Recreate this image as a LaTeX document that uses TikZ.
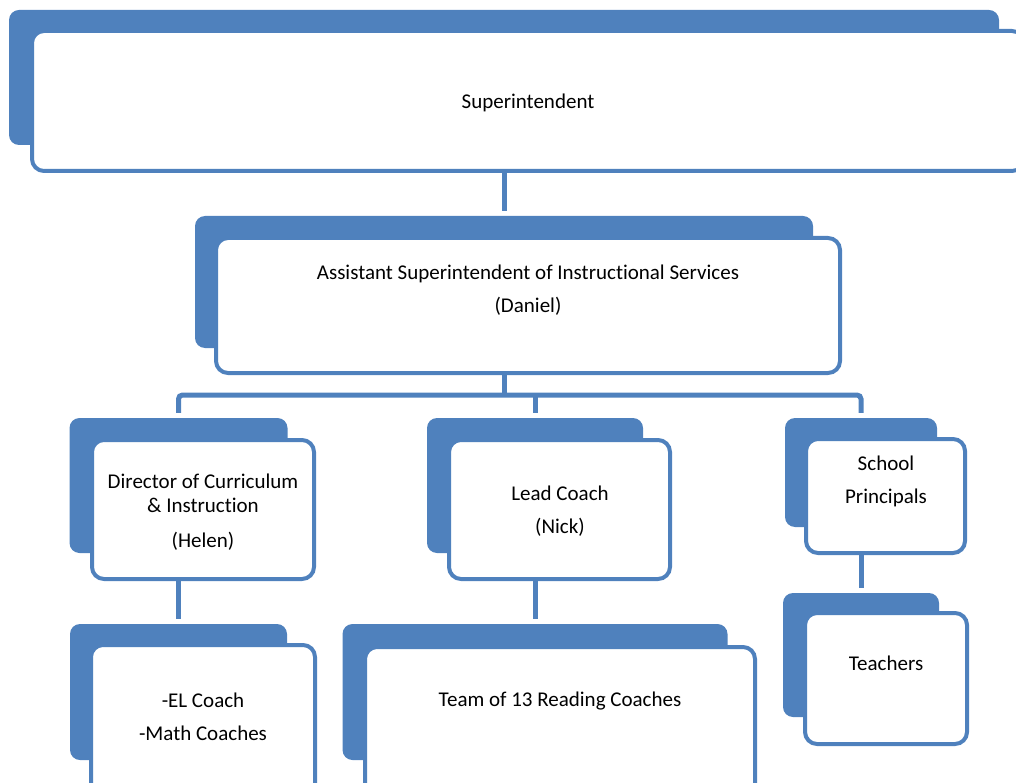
\documentclass[tikz,border=0pt]{standalone}
\usepackage{fontspec}
\setmainfont{Carlito}[Ligatures=NoCommon]
\usetikzlibrary{calc}
\usetikzlibrary{positioning}

\definecolor{boxblue}{HTML}{4F81BD}

\begin{document}
\begin{tikzpicture}[
  x=1pt, y=-1pt,
	back/.style={
	rectangle,
	fill=boxblue,
	rounded corners=10pt,
	inner sep=0pt},
	front/.style={
	rectangle,
	draw=boxblue,
	fill=white,
	line width=4pt,
	rounded corners=12pt,
	inner sep=0pt},
	boxtext/.style={
	align=center,
	inner sep=0pt,
	font=\fontsize{21pt}{24pt}\selectfont},
	link/.style={
	draw=boxblue,
	line width=5pt
	}]

	% Frame
	\clip (0,0) rectangle (1016,783);

	% Superintendent
	\node [back, minimum width=990pt, minimum height=135pt] at (504,77.5)  (supBack) {};
	\node [front, minimum width=992pt, minimum height=140pt] at (528,101) (sup) {};
	\node [boxtext] at (528,103) (supText) {Superintendent};

	% Assistant superintendent
	\node [back, minimum width=618pt, minimum height=132pt] at (504,282)    (asstBack) {};
	\node [front, minimum width=624pt, minimum height=135pt] at (528,305.5) (asst) {};
	\node [boxtext] at (528,290.5) (asstText) {Assistant Superintendent of Instructional Services\\[9pt](Daniel)};

	% Director
	\node [back, minimum width=218pt, minimum height=135pt] at (178.5,485.5) (dirBack) {};
	\node [front, minimum width=222pt, minimum height=139pt] at (203,509.5) (dir) {};
	\node [boxtext] at (203,512) (dirText) {Director of Curriculum\\\& Instruction\\[11pt](Helen)};

	% Lead coach
	\node [back, minimum width=216pt, minimum height=135pt] at (535,485.5)   (leadBack) {};
	\node [front, minimum width=221pt, minimum height=139pt] at (559.5,509.5) (lead) {};
	\node [boxtext] at (560,511.5) (leadText) {Lead Coach\\[9pt](Nick)};

	% Principals
	\node [back, minimum width=152pt, minimum height=109pt] at (861,472.5) (prinBack) {};
	\node [front, minimum width=159pt, minimum height=114pt] at (885.5,496) (prin) {};
	\node [boxtext] at (886,481.5) (prinText) {School\\[9pt]Principals};

	% Teachers
	\node [back, minimum width=156pt, minimum height=124pt] at (861,655)   (teachBack) {};
	\node [front, minimum width=162pt, minimum height=131pt] at (886,678.5) (teach) {};
	\node [boxtext] at (886,663) (teachText) {Teachers};

	% Coaches
	\node [back, minimum width=217pt, minimum height=136pt] at (178.5,692) (elBack) {};
	\node [front, minimum width=224pt, minimum height=155pt] at (203,722.5) (el) {};
	\node [boxtext] at (203,717) (elText) {-EL Coach\\[9pt]-Math Coaches};

	\node [back, minimum width=385pt, minimum height=136pt] at (535,692) (teamBack) {};
	\node [front, minimum width=390pt, minimum height=153pt] at (560,723.5) (team) {};
	\node [boxtext] at (560,701) (teamText) {Team of 13 Reading Coaches};

	% Links
	\draw[link, shorten >=5pt] (sup.south -| asstBack.north) -- (asstBack.north);

	\coordinate (bus) at ($(asst.south -| asstBack.north)+(0,20)$);
	\draw[link] (asst.south -| asstBack.north) -- (bus);
	\draw[link, rounded corners=4pt, shorten <=5pt, shorten >=5pt] (dirBack.north) |- (bus) -| (prinBack.north);
	\draw[link, shorten >=5pt] (bus -| leadBack.north) -- (leadBack.north);

	\draw[link, shorten >=5pt] (dir.south -| elBack.north) -- (elBack.north);
	\draw[link, shorten >=5pt] (lead.south -| teamBack.north) -- (teamBack.north);
	\draw[link, shorten >=5pt] (prin.south -| teachBack.north) -- (teachBack.north);

\end{tikzpicture}
\end{document}
